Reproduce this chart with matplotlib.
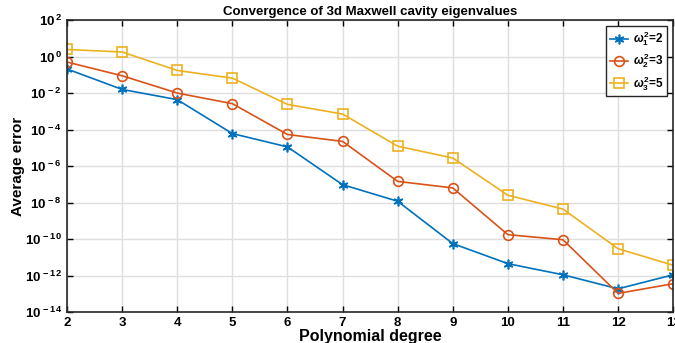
import numpy as np
import matplotlib.pyplot as plt
from matplotlib.ticker import FixedLocator, FixedFormatter, NullLocator

plt.rcParams['font.family'] = ['Liberation Sans', 'DejaVu Sans']
plt.rcParams['font.weight'] = 'bold'
plt.rcParams['mathtext.fontset'] = 'custom'
plt.rcParams['mathtext.rm'] = 'Liberation Sans:bold'
plt.rcParams['mathtext.it'] = 'Liberation Sans:italic'
plt.rcParams['mathtext.bf'] = 'Liberation Sans:bold'

# 多项式次数
degree = [2, 3, 4, 5, 6, 7, 8, 9, 10, 11, 12, 13]
# 平均误差的对数值 (log10)
log_err1 = [-0.68, -1.80, -2.36, -4.22, -4.95, -7.02, -7.93, -10.25, -11.35, -11.96, -12.73, -11.96]
log_err2 = [-0.30, -1.05, -2.00, -2.58, -4.27, -4.65, -6.84, -7.20, -9.76, -10.04, -12.98, -12.45]
log_err3 = [0.39, 0.25, -0.76, -1.18, -2.62, -3.15, -4.91, -5.56, -7.60, -8.36, -10.53, -11.44]
labels = [r'$\omega_1^2$=2', r'$\omega_2^2$=3', r'$\omega_3^2$=5']
colors = ['#0072BD', '#D95319', '#EDB120']
markers = [(6, 2, 0), 'o', 's']

fig = plt.figure(figsize=(6.75, 3.43), dpi=100)
ax = fig.add_axes([0.0993, 0.0904, 0.898, 0.851])

for le, lab, c, m in zip([log_err1, log_err2, log_err3], labels, colors, markers):
    ax.semilogy(degree, 10.0 ** np.array(le), color=c, marker=m, label=lab,
                markersize=7 if m != 's' else 6.5, markerfacecolor='none',
                markeredgewidth=1.2, linewidth=1.2)

ax.set_xlim(2, 13)
ax.set_ylim(1e-14, 1e2)
ax.set_xticks(degree)
yt = [10.0 ** k for k in range(-14, 3, 2)]
ax.yaxis.set_major_locator(FixedLocator(yt))
ax.yaxis.set_major_formatter(FixedFormatter([r'10$^{\,%d}$' % k for k in range(-14, 3, 2)]))
ax.yaxis.set_minor_locator(NullLocator())
ax.tick_params(direction='in', length=4, labelsize=9.5, width=1, top=True, right=True)
ax.grid(True, color='#dedede', linewidth=1)
for s in ax.spines.values():
    s.set_linewidth(1.2)
    s.set_color('#262626')

ax.set_title('Convergence of 3d Maxwell cavity eigenvalues', fontsize=9.5, fontweight='bold', pad=4)
ax.set_xlabel('Polynomial degree', fontsize=11.5, fontweight='bold', labelpad=0)
ax.set_ylabel('Average error', fontsize=11, fontweight='bold', labelpad=0)
ax.legend(loc='upper right', fontsize=8.5, fancybox=False, edgecolor='#262626',
          handlelength=1.6, handletextpad=0.4, labelspacing=0.3,
          borderpad=0.3, borderaxespad=0.5, framealpha=1)

fig.savefig('out.png', dpi=100)
